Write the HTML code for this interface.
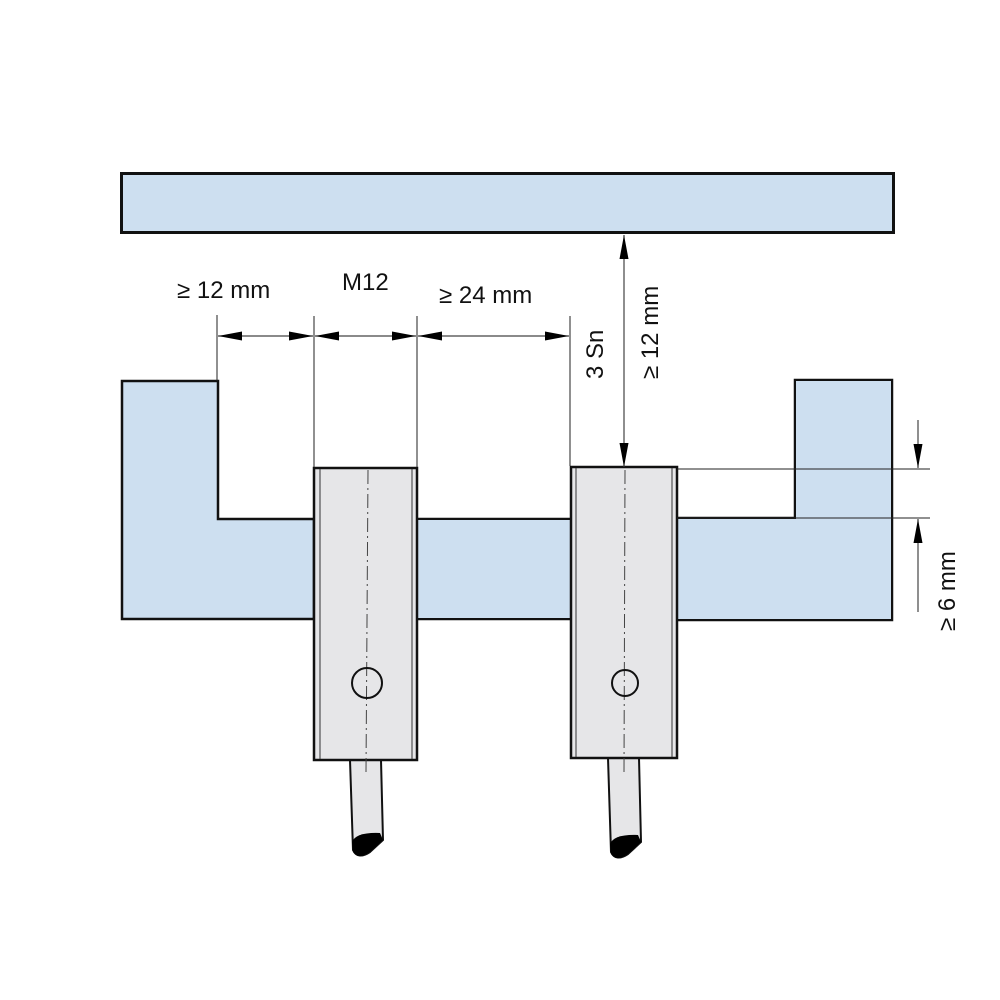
<!DOCTYPE html>
<html><head><style>html,body{margin:0;padding:0;background:#fff}svg{display:block}</style></head>
<body>
<svg width="1000" height="1000" viewBox="0 0 1000 1000" xmlns="http://www.w3.org/2000/svg" font-family="Liberation Sans, sans-serif">
<defs>
<marker id="a" viewBox="0 0 24 10" refX="24" refY="5" markerWidth="24" markerHeight="10" markerUnits="userSpaceOnUse" orient="auto-start-reverse"><path d="M0,0.5 L24,5 L0,9.5 Z" fill="#000"/></marker>
</defs>
<rect x="121.5" y="173.5" width="772" height="59" fill="#cddff0" stroke="#111" stroke-width="3"/>
<path d="M122,381 H218 V519 H314 V619 H122 Z" fill="#cddff0" stroke="#111" stroke-width="2.5"/>
<path d="M417,519 H571 V619 H417" fill="#cddff0" stroke="#111" stroke-width="2.5"/>
<rect x="417" y="520" width="154" height="98" fill="#cddff0"/>
<path d="M677,518 H795 V380 H892 V620 H677" fill="#cddff0" stroke="#111" stroke-width="2.5"/>
<rect x="677" y="519" width="214" height="100" fill="#cddff0"/>
<rect x="796" y="381" width="95" height="138" fill="#cddff0"/>
<path d="M350,760 L353,850 Q358,860 370,852 L383,840 L381,760 Z" fill="#e6e6e8" stroke="#111" stroke-width="2"/>
<path d="M352,842 Q356,832 380,833 L383,840 L370,852 Q358,860 353,852 Z" fill="#000"/>
<path d="M608,758 L611,852 Q616,862 628,854 L641,842 L639,758 Z" fill="#e6e6e8" stroke="#111" stroke-width="2"/>
<path d="M610,844 Q614,834 638,835 L641,842 L628,854 Q616,862 611,854 Z" fill="#000"/>
<rect x="314" y="468" width="103" height="292" fill="#e6e6e8" stroke="#111" stroke-width="2.5"/>
<line x1="320" y1="469" x2="320" y2="759" stroke="#333" stroke-width="1"/>
<line x1="412" y1="469" x2="412" y2="759" stroke="#333" stroke-width="1"/>
<rect x="571" y="467" width="106" height="291" fill="#e6e6e8" stroke="#111" stroke-width="2.5"/>
<line x1="576" y1="468" x2="576" y2="757" stroke="#333" stroke-width="1"/>
<line x1="672" y1="468" x2="672" y2="757" stroke="#333" stroke-width="1"/>
<line x1="368" y1="470" x2="366" y2="772" stroke="#444" stroke-width="1" stroke-dasharray="14,4,2,4"/>
<line x1="625" y1="470" x2="624" y2="772" stroke="#444" stroke-width="1" stroke-dasharray="14,4,2,4"/>
<circle cx="367" cy="683" r="15" fill="none" stroke="#111" stroke-width="2"/>
<circle cx="625" cy="683" r="13" fill="none" stroke="#111" stroke-width="2"/>
<g stroke="#222" stroke-width="1">
<line x1="217" y1="315" x2="217" y2="381"/>
<line x1="314" y1="316" x2="314" y2="467"/>
<line x1="417" y1="316" x2="417" y2="467"/>
<line x1="570" y1="316" x2="570" y2="466"/>
<line x1="677" y1="469" x2="930" y2="469"/>
<line x1="677" y1="518" x2="930" y2="518"/>
</g>
<g stroke="#444" stroke-width="1.2" fill="none">
<line x1="218" y1="336" x2="313" y2="336" marker-start="url(#a)" marker-end="url(#a)"/>
<line x1="315" y1="336" x2="416" y2="336" marker-start="url(#a)" marker-end="url(#a)"/>
<line x1="418" y1="336" x2="569" y2="336" marker-start="url(#a)" marker-end="url(#a)"/>
<line x1="624" y1="235" x2="624" y2="467" marker-start="url(#a)" marker-end="url(#a)"/>
<line x1="918" y1="420" x2="918" y2="468" marker-end="url(#a)"/>
<line x1="918" y1="612" x2="918" y2="519" marker-end="url(#a)"/>
</g>
<g font-size="24" fill="#111">
<text x="177" y="298">≥ 12 mm</text>
<text x="342" y="290">M12</text>
<text x="439" y="303">≥ 24 mm</text>
<text transform="translate(603,379) rotate(-90)">3 Sn</text>
<text transform="translate(658,379) rotate(-90)">≥ 12 mm</text>
<text transform="translate(955,631) rotate(-90)">≥ 6 mm</text>
</g>
</svg>
</body></html>
